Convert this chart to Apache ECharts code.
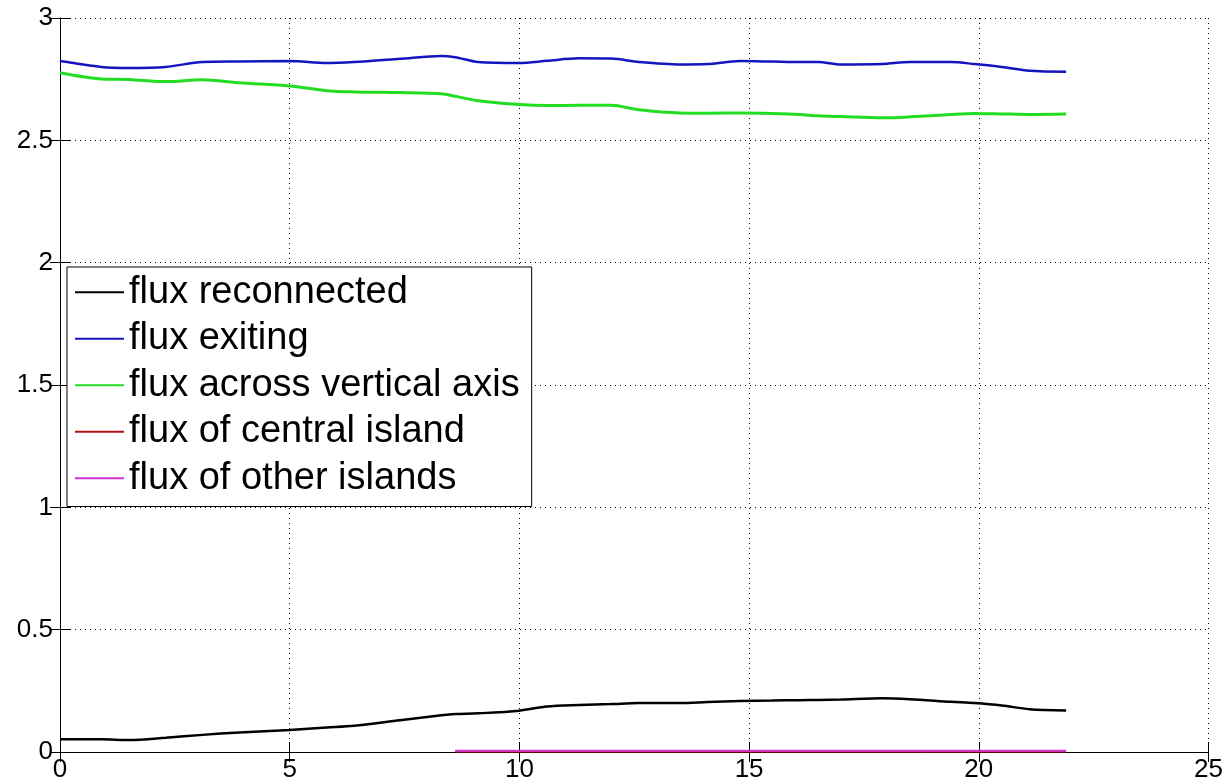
<!DOCTYPE html>
<html><head><meta charset="utf-8">
<script src="https://cdn.jsdelivr.net/npm/echarts@6/dist/echarts.min.js"></script>
<style>html,body{margin:0;padding:0;background:#fff}#c{width:1226px;height:783px}</style>
</head><body><div id="c"></div>
<script>
const time = [0,0.9,1.5,2.3,3.1,3.9,5,5.8,6.4,7.4,8.3,8.6,9.1,10,10.6,11.3,12,12.6,13.5,14.1,14.8,15.5,16.1,16.5,17,17.9,18.5,19.4,19.9,20.5,21.1,21.9];
const fluxReconnected = [0.052,0.052,0.049,0.058,0.07,0.08,0.09,0.1,0.107,0.13,0.15,0.155,0.158,0.169,0.186,0.192,0.196,0.2,0.2,0.204,0.208,0.21,0.212,0.213,0.215,0.22,0.216,0.205,0.2,0.19,0.175,0.17];
const fluxExiting = [2.824,2.80,2.796,2.80,2.82,2.822,2.824,2.816,2.82,2.833,2.845,2.84,2.82,2.816,2.825,2.835,2.834,2.82,2.81,2.812,2.824,2.822,2.82,2.82,2.81,2.812,2.82,2.82,2.812,2.80,2.784,2.78];
const fluxAcross = [2.776,2.751,2.749,2.74,2.748,2.735,2.722,2.703,2.698,2.695,2.69,2.68,2.662,2.646,2.642,2.643,2.643,2.625,2.612,2.611,2.612,2.61,2.606,2.6,2.597,2.592,2.596,2.606,2.61,2.608,2.606,2.608];
const fluxCentral = [null,null,null,null,null,null,null,null,null,null,null,0,0,0,0,0,0,0,0,0,0,0,0,0,0,0,0,0,0,0,0,0];
const fluxOther = [null,null,null,null,null,null,null,null,null,null,null,0.005,0.005,0.005,0.005,0.005,0.005,0.005,0.005,0.005,0.005,0.005,0.005,0.005,0.005,0.005,0.005,0.005,0.005,0.005,0.005,0.005];
const seriesNames = ['flux reconnected','flux exiting','flux across vertical axis','flux of central island','flux of other islands'];

const pair = arr => time.map((t,i)=>[t,arr[i]]);
const font = '"Liberation Sans", Arial, Helvetica, sans-serif';
const chart = echarts.init(document.getElementById('c'));
const dotted = {show:true, lineStyle:{color:'#000', type:[1,4], width:1}};
const boxAxisLine = {show:true, lineStyle:{color:'#000', width:1}};
chart.setOption({
  animation:false,
  backgroundColor:'#fff',
  grid:{left:60,right:17,top:18,bottom:30,containLabel:false},
  legend:{
    orient:'vertical', left:67, top:267,
    backgroundColor:'#fff', borderColor:'#000', borderWidth:1,
    padding:[2,12,5,8], itemGap:0, itemWidth:49, itemHeight:2,
    icon:'rect',
    textStyle:{fontFamily:font, fontSize:38, color:'#000', lineHeight:46.5},
    data:seriesNames
  },
  xAxis:[{
    type:'value', min:0, max:25, interval:5,
    axisLine:boxAxisLine,
    axisTick:{show:true, inside:true, length:10, lineStyle:{color:'#000'}},
    axisLabel:{fontFamily:font, fontSize:26, color:'#000', margin:5},
    splitLine:dotted
  },{
    type:'value', min:0, max:25, interval:5, position:'top',
    axisLine:boxAxisLine,
    axisTick:{show:true, inside:true, length:10, lineStyle:{color:'#000'}},
    axisLabel:{show:false}, splitLine:{show:false}
  }],
  yAxis:[{
    type:'value', min:0, max:3, interval:0.5,
    axisLine:boxAxisLine,
    axisTick:{show:true, inside:true, length:10, lineStyle:{color:'#000'}},
    axisLabel:{fontFamily:font, fontSize:26, color:'#000', margin:7},
    splitLine:dotted
  },{
    type:'value', min:0, max:3, interval:0.5, position:'right',
    axisLine:boxAxisLine,
    axisTick:{show:true, inside:true, length:10, lineStyle:{color:'#000'}},
    axisLabel:{show:false}, splitLine:{show:false}
  }],
  series:[
    {name:seriesNames[0], type:'line', data:pair(fluxReconnected), showSymbol:false, smooth:0.3, color:'#000', lineStyle:{width:2.5}, z:3},
    {name:seriesNames[1], type:'line', data:pair(fluxExiting), showSymbol:false, smooth:0.3, color:'#1515c0', lineStyle:{width:2.5}, z:3},
    {name:seriesNames[2], type:'line', data:pair(fluxAcross), showSymbol:false, smooth:0.3, color:'#22dd22', lineStyle:{width:3}, z:3},
    {name:seriesNames[3], type:'line', data:pair(fluxCentral), showSymbol:false, color:'#b01010', lineStyle:{width:1.5}, z:3},
    {name:seriesNames[4], type:'line', data:pair(fluxOther), showSymbol:false, color:'#cc33cc', lineStyle:{width:2}, z:4}
  ]
});
</script>
</body></html>
